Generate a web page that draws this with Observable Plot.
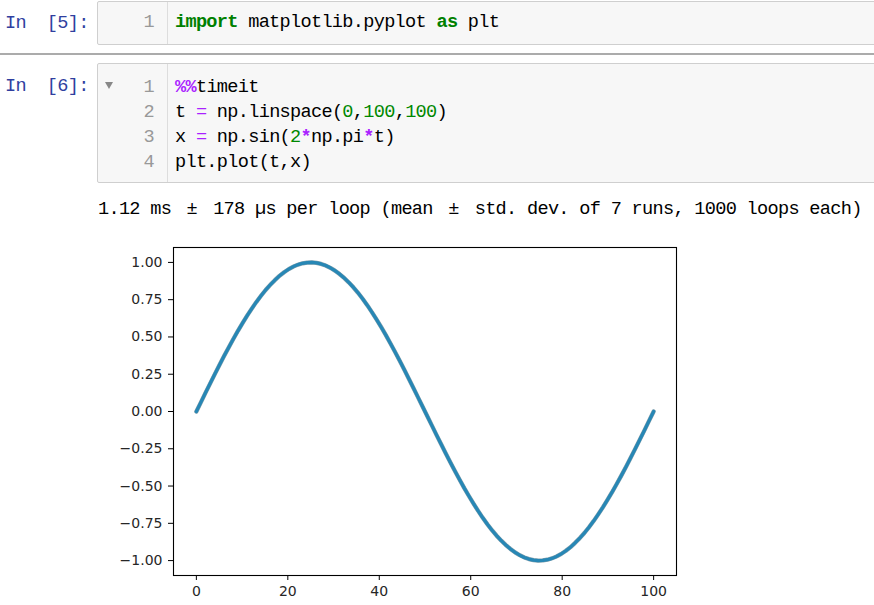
<!DOCTYPE html>
<html>
<head>
<meta charset="utf-8">
<script src="https://cdn.jsdelivr.net/npm/d3@7"></script>
<script src="https://cdn.jsdelivr.net/npm/@observablehq/plot@0.6"></script>
<style>
  html, body { margin: 0; padding: 0; background: #fff; }
  body { width: 874px; height: 605px; position: relative; overflow: hidden; }
  .mono { font-family: "Liberation Mono", "DejaVu Sans Mono", monospace; font-size: 18.6px; letter-spacing: -0.7px; white-space: pre; }
  .prompt { position: absolute; left: 5px; color: #303F9F; line-height: 24px; }
  .box { position: absolute; left: 97px; width: 790px; background: #f7f7f7; border: 1px solid #cfcfcf; border-radius: 2px; box-sizing: border-box; }
  .gutter { position: absolute; left: 69px; top: 0; bottom: 0; border-left: 1px solid #dddddd; }
  .ln { position: absolute; left: 0; text-align: right; color: #999; line-height: 24px; }
  .code { position: absolute; left: 77px; color: #000; line-height: 24px; }
  .kw { color: #008000; font-weight: bold; }
  .op { color: #AA22FF; }
  .opb { color: #AA22FF; font-weight: bold; }
  .num { color: #008800; }
  .wide { display: inline-block; width: 21px; text-align: center; letter-spacing: 0; }
  .sep { position: absolute; left: 0; width: 874px; top: 53px; height: 0; border-top: 2px solid #ababab; }
  .out { position: absolute; left: 98px; top: 198px; line-height: 24px; color: #000; }
  #chart { position: absolute; left: 105px; top: 235px; }
</style>
</head>
<body>
<div class="prompt mono" style="top:12px">In  [5]:</div>
<div class="box" style="top:1px;height:44px">
  <div class="gutter"></div>
  <div class="ln mono" style="top:9px;width:56px">1</div>
  <div class="code mono" style="top:9px"><span class="kw">import</span> matplotlib.pyplot <span class="kw">as</span> plt</div>
</div>
<div class="sep"></div>
<div class="prompt mono" style="top:75px">In  [6]:</div>
<div class="box" style="top:63px;height:120px">
  <div style="position:absolute;left:7px;top:18px;width:0;height:0;border-left:4px solid transparent;border-right:4px solid transparent;border-top:7px solid #888;"></div>
  <div class="gutter"></div>
  <div class="ln mono" style="top:12px;width:56px">1</div>
  <div class="ln mono" style="top:37px;width:56px">2</div>
  <div class="ln mono" style="top:62px;width:56px">3</div>
  <div class="ln mono" style="top:87px;width:56px">4</div>
  <div class="code mono" style="top:12px"><span class="opb">%%</span>timeit</div>
  <div class="code mono" style="top:37px">t <span class="op">=</span> np.linspace(<span class="num">0</span>,<span class="num">100</span>,<span class="num">100</span>)</div>
  <div class="code mono" style="top:62px">x <span class="op">=</span> np.sin(<span class="num">2</span><span class="opb">*</span>np.pi<span class="opb">*</span>t)</div>
  <div class="code mono" style="top:87px">plt.plot(t,x)</div>
</div>
<div class="out mono">1.12 ms <span class="wide">±</span> 178 µs per loop (mean <span class="wide">±</span> std. dev. of 7 runs, 1000 loops each)</div>
<div id="chart"></div>
<script>
// t = linspace(0,100,100)
const tValues = [0, 1.01, 2.02, 3.03, 4.04, 5.05, 6.06, 7.07, 8.08, 9.09,
  10.10, 11.11, 12.12, 13.13, 14.14, 15.15, 16.16, 17.17, 18.18, 19.19,
  20.20, 21.21, 22.22, 23.23, 24.24, 25.25, 26.26, 27.27, 28.28, 29.29,
  30.30, 31.31, 32.32, 33.33, 34.34, 35.35, 36.36, 37.37, 38.38, 39.39,
  40.40, 41.41, 42.42, 43.43, 44.44, 45.45, 46.46, 47.47, 48.48, 49.49,
  50.51, 51.52, 52.53, 53.54, 54.55, 55.56, 56.57, 57.58, 58.59, 59.60,
  60.61, 61.62, 62.63, 63.64, 64.65, 65.66, 66.67, 67.68, 68.69, 69.70,
  70.71, 71.72, 72.73, 73.74, 74.75, 75.76, 76.77, 77.78, 78.79, 79.80,
  80.81, 81.82, 82.83, 83.84, 84.85, 85.86, 86.87, 87.88, 88.89, 89.90,
  90.91, 91.92, 92.93, 93.94, 94.95, 95.96, 96.97, 97.98, 98.99, 100];
// x values
const xValues = [0.000, 0.063, 0.127, 0.189, 0.251, 0.312, 0.372, 0.430, 0.486, 0.541,
  0.593, 0.643, 0.690, 0.735, 0.776, 0.815, 0.850, 0.881, 0.910, 0.934,
  0.955, 0.972, 0.985, 0.994, 0.999, 1.000, 0.997, 0.990, 0.979, 0.964,
  0.945, 0.922, 0.896, 0.866, 0.833, 0.796, 0.756, 0.713, 0.667, 0.618,
  0.567, 0.514, 0.458, 0.401, 0.342, 0.282, 0.220, 0.158, 0.095, 0.032,
  -0.032, -0.095, -0.158, -0.220, -0.282, -0.342, -0.401, -0.458, -0.514, -0.567,
  -0.618, -0.667, -0.713, -0.756, -0.796, -0.833, -0.866, -0.896, -0.922, -0.945,
  -0.964, -0.979, -0.990, -0.997, -1.000, -0.999, -0.994, -0.985, -0.972, -0.955,
  -0.934, -0.910, -0.881, -0.850, -0.815, -0.776, -0.735, -0.690, -0.643, -0.593,
  -0.541, -0.486, -0.430, -0.372, -0.312, -0.251, -0.189, -0.127, -0.063, 0.000];
const xTicks = [0, 20, 40, 60, 80, 100];
const yTicks = [-1.00, -0.75, -0.50, -0.25, 0.00, 0.25, 0.50, 0.75, 1.00];

const data = tValues.map((t, i) => ({t, x: xValues[i]}));

const chart = Plot.plot({
  width: 600,
  height: 370,
  marginLeft: 68,
  marginRight: 29,
  marginTop: 12,
  marginBottom: 30,
  style: {fontFamily: "DejaVu Sans", fontSize: "14px", color: "#262626", background: "transparent"},
  x: {domain: [-5, 105]},
  y: {domain: [-1.1, 1.1]},
  marks: [
    Plot.axisX({ticks: xTicks, tickSize: 5, tickPadding: 6, tickFormat: d3.format("d"), label: null, stroke: "#000"}),
    Plot.axisY({ticks: yTicks, tickSize: 5, tickPadding: 6, tickFormat: d3.format(".2f"), label: null, stroke: "#000"}),
    Plot.line(data, {x: "t", y: "x", stroke: "#2f5f74", strokeWidth: 4.2, strokeOpacity: 0.6}),
    Plot.line(data, {x: "t", y: "x", stroke: "#2787b5", strokeWidth: 3.2}),
    Plot.frame({stroke: "#000", strokeWidth: 1.1})
  ]
});
document.getElementById("chart").appendChild(chart);
</script>
</body>
</html>
